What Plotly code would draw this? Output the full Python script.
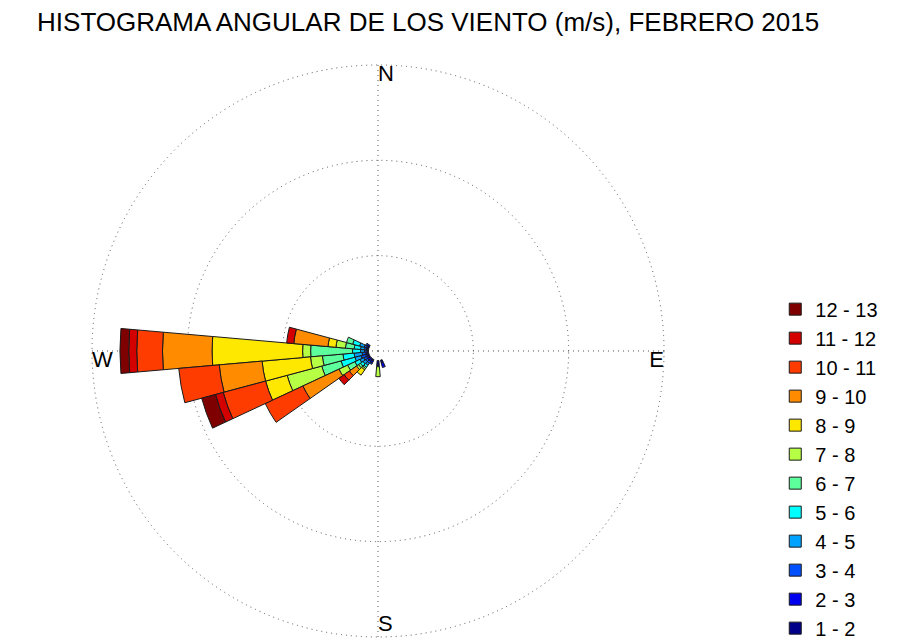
import plotly.graph_objects as go
import numpy as np

# wind directions (deg, compass) and frequency (%) per speed bin, inner -> outer
directions = [160, 180, 210, 220, 230, 240, 250, 260, 270, 280, 290, 300]
speed_bins = ["1 - 2", "2 - 3", "3 - 4", "4 - 5", "5 - 6", "6 - 7",
              "7 - 8", "8 - 9", "9 - 10", "10 - 11", "11 - 12", "12 - 13"]
bin_colors = ["#000088", "#0000ee", "#0050ff", "#00a4ff", "#00ffff", "#5cff9c",
              "#b6ff44", "#ffe800", "#ff8c00", "#ff3c00", "#d40000", "#7f0000"]

d160 = [0.30, 0.50, 0, 0, 0, 0, 0, 0, 0, 0, 0, 0]
d180 = [0.50, 0.15, 0, 0, 0, 0, 1.05, 0, 0, 0, 0, 0]
d210 = [0.15, 0.25, 0.15, 0, 0, 0, 0, 0, 0, 0, 0, 0]
d220 = [0.13, 0.21, 0.25, 0.25, 0.25, 0.17, 0.17, 0.67, 0, 0, 0, 0]
d230 = [0.13, 0.21, 0.25, 0.33, 0.33, 0.25, 0.25, 0, 0.92, 0.67, 0.67, 0]
d240 = [0.13, 0.21, 0.33, 0.42, 0.59, 0.84, 1.00, 0, 4.18, 4.35, 0, 0]
d250 = [0.13, 0.21, 0.50, 0.67, 1.50, 2.10, 3.76, 2.34, 0, 4.60, 0.84, 1.50]
d260 = [0.13, 0.17, 0.38, 0.84, 1.17, 2.17, 1.25, 5.10, 4.51, 4.26, 0, 0]
d270 = [0.08, 0.08, 0.25, 0.42, 0.84, 4.40, 0.84, 9.50, 5.20, 2.70, 0.84, 0.92]
d280 = [0.08, 0.13, 0.21, 0.42, 0.67, 0.92, 1.00, 0.84, 3.60, 0, 0.75, 0]
d290 = [0.08, 0.17, 0.25, 0.50, 0.75, 0.67, 0, 0, 0, 0, 0, 0]
d300 = [0.08, 0.17, 0.17, 0, 0, 0, 0, 0, 0, 0, 0, 0]

rings = [10, 20, 30]
hole = 1.0  # empty centre (%)
compass = ["N", "E", "S", "W"]
compass_deg = [0, 90, 180, 270]

table = np.array([d160, d180, d210, d220, d230, d240, d250, d260,
                  d270, d280, d290, d300])
bases = hole + np.cumsum(table, axis=1) - table

fig = go.Figure()

for k, label in enumerate(speed_bins):
    keep = table[:, k] > 0
    fig.add_trace(go.Barpolar(
        r=table[keep, k], theta=np.array(directions)[keep], base=bases[keep, k],
        width=10, name=label,
        marker=dict(color=bin_colors[k], line=dict(color="#1a1a1a", width=1)),
    ))

# cardinal letters sit just inside the outer ring
fig.add_trace(go.Scatterpolar(
    r=[rings[-1]] * 4, theta=compass_deg, text=compass, mode="text",
    textposition=["bottom right", "bottom left", "top right", "bottom right"],
    textfont=dict(size=22, color="black", family="Liberation Sans, Arial"),
    showlegend=False, hoverinfo="skip",
))

fig.update_layout(
    width=908, height=643,
    margin=dict(l=0, r=0, t=0, b=0),
    paper_bgcolor="white",
    font=dict(family="Liberation Sans, Arial", color="black"),
    title=dict(text="HISTOGRAMA ANGULAR DE LOS VIENTO (m/s), FEBRERO 2015",
               x=0.032, xanchor="left", y=0.978, yanchor="middle",
               font=dict(size=26, color="black")),
    polar=dict(
        domain=dict(x=[0.0903, 0.7247], y=[0.0187, 0.9145]),
        bgcolor="white",
        barmode="overlay",
        radialaxis=dict(range=[0, rings[-1] * 1.007], tickvals=rings,
                        showticklabels=False, ticks="", showline=False,
                        gridcolor="#555555", griddash="1px,4px", gridwidth=1),
        angularaxis=dict(direction="clockwise", rotation=90, tickvals=compass_deg,
                         showticklabels=False, ticks="", showline=False,
                         gridcolor="#555555", griddash="1px,4px", gridwidth=1),
    ),
    legend=dict(x=0.845, y=0.562, xanchor="left", yanchor="top",
                traceorder="reversed", font=dict(size=20, color="black"),
                bgcolor="rgba(0,0,0,0)"),
    showlegend=True,
)

fig.write_html("out.html")
